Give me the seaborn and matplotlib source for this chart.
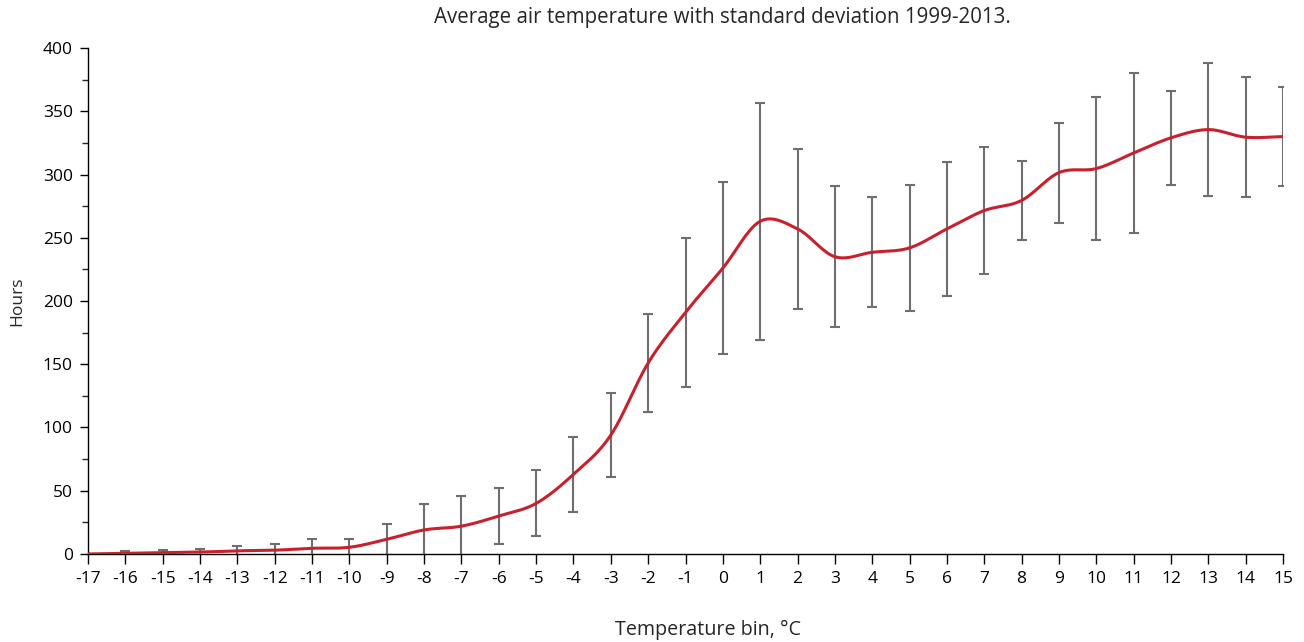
import numpy as np
import pandas as pd
import matplotlib.pyplot as plt
import seaborn as sns

temp_bins = list(range(-17, 16))
mean_hours = [0, 0.5, 1, 1.5, 2.5, 3, 4.5, 5.3, 11.6, 19, 22, 30,
              40, 63, 94, 151, 191, 226, 263, 257, 235, 238.5, 242, 257,
              271.5, 279.5, 301.5, 304.7, 317, 329, 335.5, 329.5, 330]
std_hours = [0, 1.7, 2, 2.7, 3.8, 5.2, 7.7, 6.9, 12.4, 20.5, 23.5, 22.5,
             26, 29.5, 33.5, 39, 59, 68, 93.5, 63, 55.6, 43.5, 50, 53,
             50.5, 31.5, 39.5, 56.7, 63, 37.3, 52.5, 47.5, 39]

title = "Average air temperature with standard deviation 1999-2013."
xlabel = "Temperature bin, °C"
ylabel = "Hours"

df = pd.DataFrame({"bin": temp_bins, "mean": mean_hours, "std": std_hours})


def smooth_curve(x, y, steps=20):
    # Catmull-Rom through the points, like Excel's "smoothed line"
    x = np.asarray(x, float)
    y = np.asarray(y, float)
    px = np.concatenate([[2 * x[0] - x[1]], x, [2 * x[-1] - x[-2]]])
    py = np.concatenate([[2 * y[0] - y[1]], y, [2 * y[-1] - y[-2]]])
    xs, ys = [], []
    t = np.linspace(0, 1, steps, endpoint=False)
    for i in range(1, len(px) - 2):
        for p, out in ((px, xs), (py, ys)):
            p0, p1, p2, p3 = p[i - 1], p[i], p[i + 1], p[i + 2]
            out.extend(0.5 * ((2 * p1) + (-p0 + p2) * t
                              + (2 * p0 - 5 * p1 + 4 * p2 - p3) * t ** 2
                              + (-p0 + 3 * p1 - 3 * p2 + p3) * t ** 3))
    xs.append(x[-1])
    ys.append(y[-1])
    return pd.DataFrame({"bin": xs, "mean": ys})


sns.set_style("ticks")
plt.rcParams["font.family"] = ["Open Sans", "DejaVu Sans"]
plt.rcParams["axes.unicode_minus"] = False

fig = plt.figure(figsize=(13.04, 6.42), dpi=100)
ax = fig.add_axes([0.0675, 0.1371, 0.9164, 0.7881])

ax.errorbar(df["bin"], df["mean"], yerr=df["std"], fmt="none",
            ecolor="#6e6e6e", elinewidth=1.5, capsize=3.5, capthick=1.5,
            zorder=2)
sns.lineplot(data=smooth_curve(df["bin"], df["mean"]), x="bin", y="mean",
             color="#c8202c", linewidth=2.2, sort=False, ax=ax, zorder=3)

ax.set_xlim(-17, 15)
ax.set_ylim(0, 400)
ax.set_xticks(temp_bins)
ax.set_yticks(range(0, 401, 50))
ax.set_yticks(range(0, 401, 25), minor=True)
ax.tick_params(axis="both", labelsize=12.5, colors="black", width=1)
ax.tick_params(axis="x", length=7, pad=5)
ax.tick_params(axis="y", which="major", length=6, pad=5)
ax.tick_params(axis="y", which="minor", length=4, width=1)
ax.set_xlabel("")
ax.set_ylabel("")
for s in ["top", "right"]:
    ax.spines[s].set_visible(False)
for s in ["left", "bottom"]:
    ax.spines[s].set_color("black")
    ax.spines[s].set_linewidth(1)

fig.text(722 / 1304, 1 - 18 / 642, title, ha="center", va="center", fontsize=14.8)
fig.text(708 / 1304, 1 - 630 / 642, xlabel, ha="center", va="center", fontsize=14.2)
fig.text(17 / 1304, 1 - 301 / 642, ylabel, ha="center", va="center",
         rotation=90, fontsize=12.5)

fig.savefig("out.png", dpi=100)
